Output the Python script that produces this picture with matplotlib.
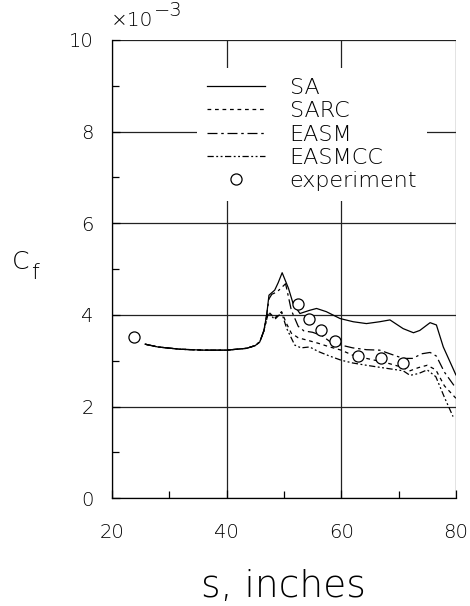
import matplotlib
matplotlib.use("Agg")
import matplotlib.pyplot as plt
from matplotlib.ticker import MultipleLocator

# ---- data (Cf in units of 1e-3) ----
sa_x = [25.8, 28.0, 31.9, 36.0, 40.0, 43.5, 45.0, 45.8, 46.5, 47.0, 47.4, 48.4, 49.0, 49.7,
        50.8, 51.6, 52.8, 54.5, 55.7, 57.4, 59.8, 62.1, 64.4, 66.7, 68.5, 70.8, 72.6, 73.7,
        75.5, 76.6, 77.8, 80.0]
sa_y = [3.36, 3.30, 3.25, 3.23, 3.23, 3.27, 3.33, 3.41, 3.65, 4.00, 4.43, 4.54, 4.70, 4.92,
        4.58, 4.25, 4.03, 4.10, 4.14, 4.07, 3.92, 3.85, 3.81, 3.85, 3.89, 3.70, 3.61, 3.66,
        3.83, 3.78, 3.30, 2.69]

easm_x = [25.8, 28.0, 31.9, 36.0, 40.0, 43.5, 45.0, 45.8, 46.5, 47.0, 47.4, 47.9, 48.8, 50.3,
          51.3, 52.5, 53.5, 55.0, 56.6, 58.0, 60.0, 62.0, 64.4, 66.7, 68.5, 70.8, 72.5, 74.0,
          75.5, 76.6, 78.0, 80.0]
easm_y = [3.36, 3.30, 3.25, 3.23, 3.23, 3.27, 3.33, 3.41, 3.65, 4.00, 4.35, 4.45, 4.50, 4.68,
          4.10, 3.75, 3.65, 3.62, 3.55, 3.42, 3.34, 3.28, 3.24, 3.23, 3.15, 3.05, 3.05, 3.15,
          3.18, 3.10, 2.75, 2.40]

sarc_x = [25.8, 28.0, 31.9, 36.0, 40.0, 43.5, 45.0, 45.8, 46.5, 47.3, 48.4, 49.6, 50.5, 51.3,
          52.5, 54.0, 56.0, 58.0, 60.0, 62.0, 64.4, 68.0, 70.8, 72.0, 73.5, 75.0, 76.5, 78.0,
          80.0]
sarc_y = [3.36, 3.30, 3.25, 3.23, 3.23, 3.27, 3.33, 3.41, 3.65, 4.07, 3.93, 4.07, 3.80, 3.60,
          3.50, 3.45, 3.38, 3.30, 3.23, 3.12, 3.05, 2.95, 2.85, 2.78, 2.85, 2.90, 2.80, 2.45,
          2.18]

easmcc_x = [25.8, 28.0, 31.9, 36.0, 40.0, 43.5, 45.0, 45.8, 46.5, 47.3, 48.4, 49.6, 50.5, 51.9,
            53.0, 54.5, 56.0, 58.0, 60.0, 62.0, 64.4, 67.0, 70.8, 72.0, 73.5, 75.0, 76.5, 78.0,
            79.5]
easmcc_y = [3.36, 3.30, 3.25, 3.23, 3.23, 3.27, 3.33, 3.41, 3.65, 4.05, 3.90, 4.05, 3.70, 3.34,
            3.28, 3.30, 3.20, 3.10, 3.01, 2.95, 2.90, 2.85, 2.78, 2.68, 2.72, 2.80, 2.65, 2.20,
            1.78]

exp_x = [23.9, 52.4, 54.3, 56.4, 58.9, 62.9, 66.9, 70.8]
exp_y = [3.52, 4.23, 3.90, 3.66, 3.43, 3.11, 3.05, 2.94]

x_ticks = [20, 40, 60, 80]
y_ticks = [0, 2, 4, 6, 8, 10]

plt.rcParams['font.family'] = ['DejaVu Sans']
plt.rcParams['font.weight'] = 'ultralight'
plt.rcParams['axes.labelweight'] = 'ultralight'

W, H = 470, 606
fig = plt.figure(figsize=(W / 100, H / 100), dpi=100)
ax = fig.add_axes([0.238, 0.178, 0.732, 0.756])


def fpos(px, py):
    return px / W, 1 - py / H


lw = 0.9
ax.plot(sa_x, sa_y, color='black', lw=lw, ls='-', label='SA')
ax.plot(sarc_x, sarc_y, color='black', lw=lw, ls=(0, (3, 3)), label='SARC')
ax.plot(easm_x, easm_y, color='black', lw=lw, ls=(0, (8, 3, 2, 3)), label='EASM')
ax.plot(easmcc_x, easmcc_y, color='black', lw=lw, ls=(0, (5, 2, 1.5, 2, 1.5, 2)), label='EASMCC')
ax.plot(exp_x, exp_y, ls='none', marker='o', ms=8, mfc='white', mec='black', mew=0.9,
        label='experiment')

ax.set_xlim(20, 80)
ax.set_ylim(0, 10)
ax.set_xticks(x_ticks)
ax.set_yticks(y_ticks)
ax.xaxis.set_minor_locator(MultipleLocator(10))
ax.yaxis.set_minor_locator(MultipleLocator(1))
ax.tick_params(which='both', direction='in', labelsize=14, color='black')
ax.tick_params(which='major', length=6, width=0.9)
ax.tick_params(axis='x', which='major', pad=18)
ax.tick_params(axis='y', which='major', pad=13)
ax.tick_params(which='minor', length=5, width=0.9)
for side in ['top', 'right']:
    ax.spines[side].set_visible(False)
for side in ['left', 'bottom']:
    ax.spines[side].set_linewidth(0.9)

ax.grid(True, which='major', color='#222222', lw=0.9)
ax.set_axisbelow(True)

ax.set_xlabel('s, inches', fontsize=27, labelpad=19, fontweight='ultralight')

# y label "C" with lowered "f"
fig.text(*fpos(12, 262), 'C', fontsize=18, ha='left', va='center')
fig.text(*fpos(31, 273), 'f', fontsize=16, ha='left', va='center')

# offset text  x10^-3
fig.text(*fpos(111, 21), '×10', fontsize=14.5, ha='left', va='center')
fig.text(*fpos(154, 11), '−3', fontsize=14, ha='left', va='center')

leg = ax.legend(loc='upper left', bbox_to_anchor=(0.247, 0.939), fontsize=16,
                frameon=True, facecolor='white', edgecolor='none', framealpha=1.0,
                fancybox=False, handlelength=2.6, handletextpad=1.13, labelspacing=0.15,
                borderpad=0.45, borderaxespad=0.0)

fig.savefig('out.png', dpi=100)
